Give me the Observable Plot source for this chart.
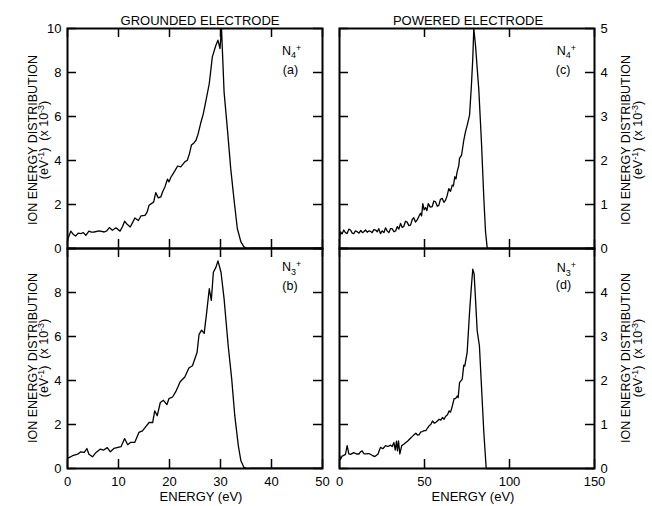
<!DOCTYPE html>
<html>
<head>
<meta charset="utf-8">
<script src="https://cdn.jsdelivr.net/npm/d3@7"></script>
<script src="https://cdn.jsdelivr.net/npm/@observablehq/plot@0.6"></script>
<style>
  html, body { margin: 0; padding: 0; background: white; overflow: hidden; }
  #chart { position: relative; width: 652px; height: 506px; }
  #chart svg { position: absolute; left: 0; top: 0; }
  #chart svg text { font-size: 13px; font-family: 'Liberation Sans', Arial, Helvetica, sans-serif; fill: black; }
</style>
</head>
<body>
<div id="chart"></div>
<script>
// ---------- DATA ----------
// (a) grounded electrode, N4+
const aEnergy = [0, 0.1, 0.65, 1.1, 1.6, 2.1, 2.6, 3.1, 3.6, 4.2, 4.7, 5.2, 6.2, 7.2, 7.7, 8.2, 8.8, 9.5, 10.3, 10.8, 11.2, 11.7, 12.3, 12.8, 13.2, 13.9, 14.4, 15.2, 15.6, 16.0, 16.5, 16.9, 17.3, 17.8, 18.3, 18.7, 19.1, 19.6, 19.9, 20.3, 20.6, 21.1, 21.6, 22.2, 23.0, 23.5, 23.9, 24.3, 24.8, 25.2, 25.6, 26.1, 26.6, 27.1, 27.8, 28.4, 29.1, 29.5, 29.9, 30.2, 30.7, 31.4, 32.0, 32.7, 33.3, 34.0, 34.6, 35.3, 36, 50];
const aDist = [0.3, 0.45, 0.79, 0.65, 0.57, 0.7, 0.68, 0.72, 0.6, 0.79, 0.74, 0.75, 0.8, 0.75, 0.8, 0.95, 0.83, 0.94, 0.79, 1.0, 1.24, 1.1, 0.98, 1.2, 1.39, 1.27, 1.48, 1.51, 1.65, 1.97, 2.05, 2.12, 2.54, 2.3, 2.35, 2.6, 2.8, 3.15, 3.03, 3.25, 3.36, 3.55, 3.75, 3.71, 3.94, 4.01, 4.3, 4.7, 4.8, 4.92, 5.2, 5.68, 6.1, 6.66, 7.5, 8.71, 9.24, 9.47, 9.09, 10.0, 7.12, 5.3, 3.64, 2.12, 0.91, 0.3, 0.07, 0.0, 0.02, 0.02];
// (b) grounded electrode, N3+
const bEnergy = [0, 0.1, 1.0, 2.0, 2.6, 3.3, 3.8, 4.2, 4.9, 5.6, 6.4, 7.1, 7.8, 8.4, 9.1, 10.5, 11.2, 11.8, 12.4, 13.2, 14.0, 14.7, 15.2, 16.0, 16.7, 17.1, 17.6, 18.2, 18.8, 19.5, 19.9, 20.6, 21.2, 22.1, 23.0, 23.8, 24.5, 25.4, 25.8, 26.3, 26.8, 27.3, 27.8, 28.2, 28.6, 29.1, 29.5, 30.1, 30.7, 31.5, 32.2, 32.8, 33.5, 34.0, 34.6, 35.3, 36, 50];
const bDist = [0.45, 0.47, 0.58, 0.65, 0.76, 0.73, 0.91, 0.65, 0.53, 0.73, 0.88, 0.84, 0.95, 0.76, 0.91, 0.99, 1.36, 1.08, 1.19, 1.19, 1.64, 1.71, 1.86, 2.09, 2.09, 2.62, 2.4, 3.0, 3.1, 2.91, 3.18, 3.25, 3.48, 3.94, 4.16, 4.57, 4.67, 5.27, 6.1, 6.29, 6.14, 7.12, 8.17, 7.64, 8.92, 9.14, 9.44, 8.92, 7.72, 5.6, 4.06, 2.4, 1.03, 0.35, 0.05, 0.0, 0.02, 0.02];
// (c) powered electrode, N4+
const cEnergy = [0, 0.6, 1.5, 2.5, 3.5, 4.5, 5.5, 6.5, 7.5, 8.4, 9.4, 10.4, 11.5, 12.5, 13.5, 14.3, 15.3, 16.3, 17.2, 18.2, 19.2, 20.2, 21.2, 22.2, 23.1, 24.1, 25.1, 26.1, 27.1, 28.0, 29.0, 30.0, 31.0, 32.0, 33.0, 34.0, 34.9, 35.9, 36.9, 37.8, 38.8, 39.8, 40.8, 41.8, 42.8, 43.7, 44.7, 45.7, 46.6, 47.6, 48.3, 49.0, 49.8, 50.6, 51.4, 52.2, 53.4, 54.5, 55.5, 56.5, 57.5, 58.4, 59.4, 60.4, 61.4, 62.4, 63.3, 64.3, 65.3, 66.3, 67.0, 67.8, 68.5, 69.2, 70.2, 70.6, 71.8, 73.1, 74.1, 75.1, 76.5, 77.6, 78.4, 79.0, 80.0, 81.0, 81.9, 83.5, 84.9, 85.9, 86.9, 90, 150];
const cDist = [0.2, 0.38, 0.33, 0.42, 0.36, 0.34, 0.44, 0.42, 0.35, 0.34, 0.4, 0.38, 0.35, 0.41, 0.36, 0.38, 0.42, 0.37, 0.4, 0.39, 0.36, 0.43, 0.42, 0.38, 0.45, 0.34, 0.4, 0.36, 0.47, 0.4, 0.36, 0.45, 0.45, 0.38, 0.4, 0.5, 0.44, 0.57, 0.48, 0.5, 0.62, 0.6, 0.52, 0.53, 0.66, 0.7, 0.6, 0.65, 0.72, 0.8, 0.74, 1.02, 0.88, 0.93, 0.86, 1.02, 0.94, 0.95, 1.08, 1.06, 0.96, 0.98, 1.12, 1.14, 1.05, 1.1, 1.2, 1.36, 1.3, 1.44, 1.42, 1.63, 1.58, 1.74, 1.89, 2.05, 2.12, 2.46, 2.65, 2.8, 3.03, 3.71, 4.32, 5.0, 4.62, 4.09, 3.64, 2.42, 1.14, 0.38, 0.01, 0, 0];
// (d) powered electrode, N3+
const dEnergy = [0, 0.6, 1.5, 2.5, 3.5, 4.5, 5.5, 6.5, 8.4, 10.0, 11.4, 12.4, 13.3, 14.3, 15.3, 17.3, 19.2, 20.8, 22.7, 23.5, 24.1, 25.5, 27.1, 28.5, 30.0, 31.0, 32.0, 32.8, 33.5, 34.1, 34.7, 35.5, 36.6, 37.8, 39.0, 40.0, 41.0, 42.0, 42.9, 43.9, 44.9, 45.9, 46.9, 47.8, 48.8, 49.8, 50.8, 51.8, 52.7, 53.7, 54.7, 55.7, 56.7, 57.6, 58.6, 59.6, 60.6, 61.5, 62.5, 63.5, 64.5, 65.3, 66.1, 67.4, 68.2, 69.4, 69.8, 70.6, 72.2, 73.1, 73.7, 75.1, 76.5, 77.6, 78.4, 79.2, 80.0, 81.0, 82.3, 83.5, 84.9, 86.3, 90, 150];
const dDist = [0.3, 0.21, 0.28, 0.3, 0.32, 0.52, 0.33, 0.32, 0.36, 0.33, 0.33, 0.38, 0.4, 0.34, 0.33, 0.34, 0.3, 0.27, 0.33, 0.42, 0.48, 0.45, 0.52, 0.5, 0.53, 0.5, 0.59, 0.42, 0.62, 0.4, 0.63, 0.33, 0.52, 0.55, 0.59, 0.62, 0.66, 0.7, 0.73, 0.77, 0.8, 0.76, 0.77, 0.83, 0.84, 0.86, 0.86, 0.92, 0.97, 1.0, 1.08, 1.03, 1.05, 1.08, 1.12, 1.1, 1.16, 1.12, 1.19, 1.22, 1.31, 1.28, 1.38, 1.59, 1.59, 1.65, 1.61, 1.95, 2.03, 2.35, 2.33, 2.64, 3.55, 4.15, 4.53, 4.42, 3.85, 3.13, 2.79, 1.88, 0.82, 0, 0, 0];

// ticks and labels
const groundedXTicks = [0, 10, 20, 30, 40, 50];
const poweredXTicks = [0, 50, 100, 150];
const groundedYTicks = [0, 2, 4, 6, 8, 10];
const poweredYTicks = [0, 1, 2, 3, 4, 5];
const groundedTopYLabels = [0, 2, 4, 6, 8, 10];
const groundedBottomYLabels = [0, 2, 4, 6, 8];
const poweredTopYLabels = [0, 1, 2, 3, 4, 5];
const poweredBottomYLabels = [0, 1, 2, 3, 4];
const columnTitles = ["GROUNDED ELECTRODE", "POWERED ELECTRODE"];
const xTitle = "ENERGY (eV)";
const panelIons = ["4", "3", "4", "3"];
const panelLetters = ["(a)", "(b)", "(c)", "(d)"];

// ---------- LAYOUT ----------
const W = 652, H = 506, PW = 255, PH = 220, TICK = 9;
const FONT = "'Liberation Sans', Arial, Helvetica, sans-serif";
const container = document.getElementById("chart");

function rich(svg, {x, y, rotate = 0, anchor = "start", parts, size = 12.5}) {
  const t = d3.select(svg).append("text")
    .attr("transform", `translate(${x},${y}) rotate(${rotate})`)
    .attr("text-anchor", anchor)
    .style("font-size", size + "px")
    .style("font-family", FONT)
    .style("fill", "black");
  let shift = 0;
  for (const [s, kind] of parts) {
    const target = kind === "sub" ? 3.5 : kind === "sup" ? -4 : 0;
    t.append("tspan")
      .attr("dy", target - shift)
      .style("font-size", (kind === "n" ? size : size * 0.72) + "px")
      .text(s);
    shift = target;
  }
}

function panel(cfg) {
  const data = cfg.E.map((e, i) => ({energy: e, dist: cfg.Y[i]}));
  const marks = [
    Plot.tickX(cfg.xTicks, {x: d => d, insetBottom: PH - TICK, strokeWidth: 1.5}),
    Plot.tickX(cfg.xTicks, {x: d => d, insetTop: PH - TICK, strokeWidth: 1.5}),
    Plot.tickY(cfg.yTicks, {y: d => d, insetRight: PW - TICK, strokeWidth: 1.5}),
    Plot.tickY(cfg.yTicks, {y: d => d, insetLeft: PW - TICK, strokeWidth: 1.5}),
    Plot.line(data, {x: "energy", y: "dist", stroke: "black", strokeWidth: 1.3}),
    Plot.frame({stroke: "black", strokeWidth: 2})
  ];
  if (cfg.title) marks.push(Plot.text([cfg.title], {frameAnchor: "top", dy: -13, dx: cfg.titleDx || 0, text: d => d}));
  if (cfg.xLabels) marks.push(Plot.text([xTitle], {frameAnchor: "bottom", dy: 32, dx: 6, text: d => d}));
  const svg = Plot.plot({
    width: W, height: H,
    marginLeft: cfg.left, marginRight: W - cfg.left - PW,
    marginTop: cfg.top, marginBottom: H - cfg.top - PH,
    style: {background: "transparent", fontFamily: FONT, fontSize: "13px", color: "black", overflow: "visible"},
    x: cfg.xLabels
      ? {domain: cfg.xDomain, ticks: cfg.xLabels, tickFormat: d => String(d), tickSize: 0, tickPadding: 8, label: null, axis: "bottom"}
      : {domain: cfg.xDomain, axis: null},
    y: {domain: cfg.yDomain, ticks: cfg.yLabels, tickFormat: d => String(d), tickSize: 0, tickPadding: 6, label: null, axis: cfg.yAxis},
    marks
  });
  container.appendChild(svg);
  const right = cfg.left + PW, top = cfg.top;
  // ion label
  rich(svg, {x: right - cfg.ionDx, y: top + cfg.ionDy, parts: [["N", "n"], [cfg.ion, "sub"], ["+", "sup"]]});
  rich(svg, {x: right - cfg.letterDx, y: top + cfg.letterDy, anchor: "middle", parts: [[cfg.letter, "n"]]});
  // y axis title
  const cy = top + PH / 2 + cfg.labelDy;
  const x1 = cfg.yAxis === "left" ? 36.5 : 630;
  const x2 = cfg.yAxis === "left" ? 47.5 : 641.5;
  rich(svg, {x: x1, y: cy, rotate: -90, anchor: "middle", parts: [["ION ENERGY DISTRIBUTION", "n"]]});
  rich(svg, {x: x2, y: cy, rotate: -90, anchor: "middle",
    parts: [["(eV", "n"], ["-1", "sup"], [")\u00a0\u00a0(x 10", "n"], ["-3", "sup"], [")", "n"]]});
  return svg;
}

panel({E: aEnergy, Y: aDist, left: 67, top: 28, xDomain: [0, 50], yDomain: [0, 10],
  xTicks: groundedXTicks, yTicks: groundedYTicks, yLabels: groundedTopYLabels, yAxis: "left",
  title: columnTitles[0], titleDx: 5, ion: panelIons[0], letter: panelLetters[0],
  ionDx: 40, ionDy: 26.5, letterDx: 31.5, letterDy: 46, labelDy: 2});
panel({E: bEnergy, Y: bDist, left: 67, top: 248, xDomain: [0, 50], yDomain: [0, 10],
  xTicks: groundedXTicks, yTicks: groundedYTicks, yLabels: groundedBottomYLabels, yAxis: "left",
  xLabels: groundedXTicks, ion: panelIons[1], letter: panelLetters[1],
  ionDx: 40, ionDy: 23, letterDx: 32, letterDy: 41.5, labelDy: 0});
panel({E: cEnergy, Y: cDist, left: 339, top: 28, xDomain: [0, 150], yDomain: [0, 5],
  xTicks: poweredXTicks, yTicks: poweredYTicks, yLabels: poweredTopYLabels, yAxis: "right",
  title: columnTitles[1], titleDx: 1, ion: panelIons[2], letter: panelLetters[2],
  ionDx: 37.3, ionDy: 26.5, letterDx: 31, letterDy: 45.5, labelDy: 2});
panel({E: dEnergy, Y: dDist, left: 339, top: 248, xDomain: [0, 150], yDomain: [0, 5],
  xTicks: poweredXTicks, yTicks: poweredYTicks, yLabels: poweredBottomYLabels, yAxis: "right",
  xLabels: poweredXTicks, ion: panelIons[3], letter: panelLetters[3],
  ionDx: 37.3, ionDy: 24, letterDx: 30.5, letterDy: 41, labelDy: 0});
</script>
</body>
</html>
